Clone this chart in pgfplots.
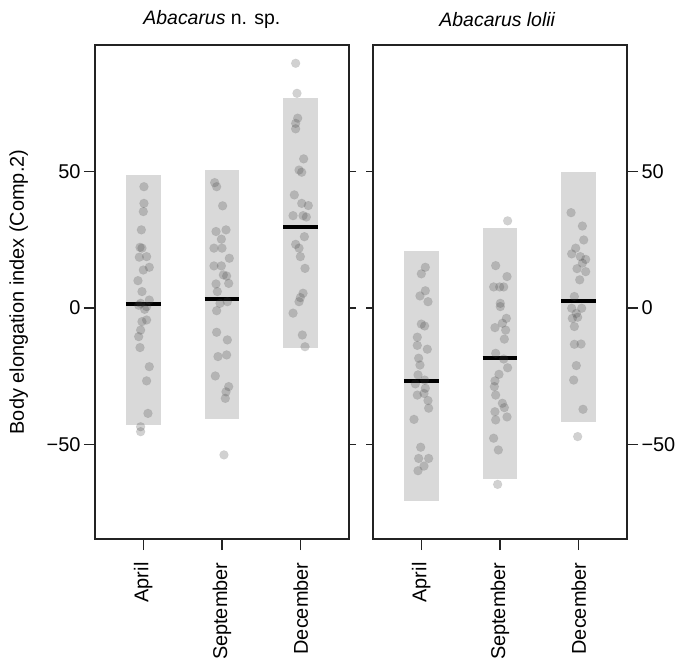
\documentclass[border=0pt]{standalone}
\usepackage{pgfplots}
\usepackage{pgfplotstable}
\usepackage{fontspec}
\setmainfont{Liberation Sans}
\pgfplotsset{compat=1.18}

\definecolor{band}{RGB}{217,217,217}
\definecolor{frame}{RGB}{35,35,35}

% individual values, x = month index + jitter
\pgfplotstableread{
x y
1.008 44.4
1.008 38.3
1.000 35.3
0.975 28.6
0.958 22.2
0.983 21.9
0.949 18.6
1.042 18.8
1.000 13.9
1.076 14.9
0.932 10.0
0.983 6.0
0.966 1.7
1.076 2.9
1.042 0.5
0.941 1.0
1.017 -0.5
0.983 -5.0
1.042 -4.4
0.966 -8.1
0.941 -10.5
0.958 -14.5
1.076 -21.5
1.042 -26.7
1.059 -38.6
0.966 -43.5
0.966 -45.3
1.907 45.9
1.932 44.4
2.008 37.4
1.924 28.0
2.051 28.6
1.992 25.2
1.898 21.9
2.000 21.9
2.093 18.2
1.898 15.4
1.992 15.4
2.017 12.1
2.059 11.7
1.924 8.8
2.085 9.0
1.941 6.0
1.975 1.7
2.068 2.3
1.932 -1.0
1.932 -8.9
2.068 -11.7
1.949 -17.8
2.059 -17.2
1.915 -24.9
2.085 -28.8
2.051 -30.7
2.042 -33.1
2.025 -53.8
2.936 89.6
2.953 78.6
2.962 69.5
2.936 67.6
2.936 65.6
3.038 54.6
2.979 50.5
3.013 49.7
2.919 41.4
3.013 38.3
3.097 37.5
2.903 33.8
3.030 33.8
3.072 33.3
3.047 26.1
2.936 23.3
2.979 21.9
2.996 18.8
3.055 14.5
3.030 5.4
2.996 3.8
2.979 2.3
2.903 -1.9
3.021 -9.9
3.055 -14.2
}\nsp

\pgfplotstableread{
x y
1.051 14.9
1.000 12.5
1.051 6.3
0.983 4.4
1.085 2.3
1.000 -5.9
1.042 -6.6
0.949 -10.7
0.949 -13.7
1.076 -15.1
0.966 -18.4
0.983 -20.9
0.958 -24.5
1.042 -26.4
0.924 -27.8
1.051 -29.4
1.034 -31.3
0.949 -31.9
1.085 -33.9
1.093 -36.7
0.907 -40.8
0.992 -51.0
0.966 -55.1
1.093 -55.1
1.034 -57.9
0.958 -59.6
2.097 31.9
1.945 15.5
2.089 11.5
1.919 7.7
1.996 7.7
2.047 7.7
2.004 1.7
2.004 0.5
2.081 -3.8
1.936 -7.2
2.030 -5.6
2.072 -8.1
2.055 -11.4
1.945 -16.6
2.047 -18.7
2.097 -21.9
1.987 -24.3
1.936 -26.7
1.928 -28.8
1.945 -31.9
2.030 -34.9
2.055 -36.5
1.936 -38.0
1.945 -41.0
2.089 -39.9
1.919 -47.7
1.979 -52.0
1.970 -64.6
2.903 34.9
3.047 30.0
3.064 24.9
2.962 21.9
2.911 19.8
3.021 18.8
3.089 17.8
3.047 16.4
2.979 14.4
3.089 13.3
3.013 10.3
2.945 4.2
2.911 -0.1
3.038 -0.1
2.970 -2.0
2.987 -3.4
2.919 -3.8
2.945 -6.8
2.945 -13.3
3.030 -13.2
2.970 -21.1
2.936 -26.4
3.055 -37.1
2.987 -47.1
}\lolii

\pgfplotsset{
  panel/.style={
    scale only axis, width=254bp, height=494bp, anchor=south west,
    xmin=0.386, xmax=3.614, ymin=-84.6, ymax=96.3,
    axis line style={frame, line width=1.1bp},
    tick style={frame, line width=1.1bp},
    tick align=outside, major tick length=11bp,
    xtick={1,2,3}, xticklabels={April,September,December}, xtick pos=bottom,
    xticklabel style={rotate=90, anchor=east, xshift=-9bp, font=\fontsize{20}{24}\selectfont},
    ytick={-50,0,50}, yticklabels={−50,0,50},
    yticklabel style={font=\fontsize{20}{24}\selectfont},
    title style={font=\fontsize{19.5}{23}\selectfont, anchor=center, yshift=0pt},
    clip=false,
  },
  inner/.style={
    scale only axis, width=254bp, height=494bp, anchor=south west,
    xmin=0.386, xmax=3.614, ymin=-84.6, ymax=96.3,
    hide x axis, axis line style={frame, line width=1.1bp},
    tick style={frame, line width=1.1bp},
    tick align=outside, major tick length=7bp,
    ytick={-50,0,50}, yticklabels={},
  },
  pts/.style={only marks, mark=*, mark size=4.5bp,
    mark options={fill=black!75, fill opacity=0.24, draw=black!75, draw opacity=0.08, line width=0.4bp}},
  band/.style={fill=band, draw=none},
  mean/.style={black, line width=4bp, line cap=butt},
}

\begin{document}
\begin{tikzpicture}
\useasboundingbox (0,0) rectangle (685bp,664bp);

% left panel
\begin{axis}[panel, at={(95bp,125bp)}, ytick pos=left,
    title={\textit{Abacarus} n. sp.},
    title style={at={(axis description cs:0.46,1.039)}},
    ylabel={Body elongation index (Comp.2)},
    ylabel style={at={(axis description cs:-0.30,0.5)}, anchor=center, font=\fontsize{20}{24}\selectfont}]
\addplot[band] coordinates {(0.778,-42.9)(1.222,-42.9)(1.222,48.7)(0.778,48.7)} -- cycle;
\addplot[band] coordinates {(1.778,-40.8)(2.222,-40.8)(2.222,50.5)(1.778,50.5)} -- cycle;
\addplot[band] coordinates {(2.778,-14.5)(3.222,-14.5)(3.222,77.0)(2.778,77.0)} -- cycle;
\addplot[pts] table[x=x, y=y] {\nsp};
\addplot[mean] coordinates {(0.778,1.5)(1.222,1.5)};
\addplot[mean] coordinates {(1.778,3.4)(2.222,3.4)};
\addplot[mean] coordinates {(2.778,29.8)(3.222,29.8)};
\end{axis}
\begin{axis}[inner, at={(95bp,125bp)}, axis y line*=right]
\end{axis}

% right panel
\begin{axis}[panel, at={(373bp,125bp)}, ytick pos=right, yticklabel pos=right,
    title={\textit{Abacarus lolii}},
    title style={at={(axis description cs:0.49,1.039)}}]
\addplot[band] coordinates {(0.778,-70.8)(1.222,-70.8)(1.222,20.8)(0.778,20.8)} -- cycle;
\addplot[band] coordinates {(1.778,-62.5)(2.222,-62.5)(2.222,29.1)(1.778,29.1)} -- cycle;
\addplot[band] coordinates {(2.778,-41.8)(3.222,-41.8)(3.222,49.8)(2.778,49.8)} -- cycle;
\addplot[pts] table[x=x, y=y] {\lolii};
\addplot[mean] coordinates {(0.778,-26.6)(1.222,-26.6)};
\addplot[mean] coordinates {(1.778,-18.2)(2.222,-18.2)};
\addplot[mean] coordinates {(2.778,2.7)(3.222,2.7)};
\end{axis}
\begin{axis}[inner, at={(373bp,125bp)}, axis y line*=left]
\end{axis}
\end{tikzpicture}
\end{document}
